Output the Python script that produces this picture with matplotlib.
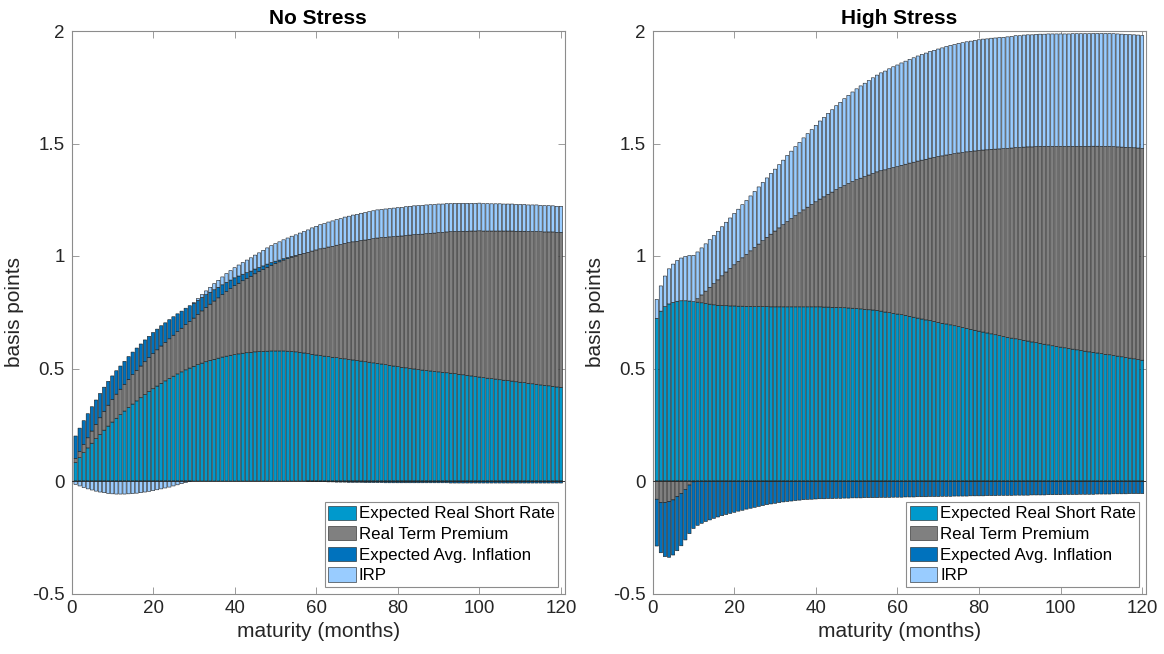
import numpy as np
import matplotlib
matplotlib.use("Agg")
import matplotlib.pyplot as plt

plt.rcParams['font.family'] = ['Liberation Sans', 'DejaVu Sans']

months = list(range(1, 121))
series_names = ["Expected Real Short Rate", "Real Term Premium",
                "Expected Avg. Inflation", "IRP"]
panel_titles = ["No Stress", "High Stress"]
x_ticks = [0, 20, 40, 60, 80, 100, 120]
y_ticks = [-0.5, 0, 0.5, 1, 1.5, 2]
y_tick_labels = ["-0.5", "0", "0.5", "1", "1.5", "2"]

# ---- No Stress ----
ns_ersr = [0.082, 0.104, 0.126, 0.147, 0.168, 0.188, 0.207, 0.226, 0.244, 0.262,
           0.279, 0.295, 0.311, 0.327, 0.342, 0.356, 0.370, 0.384, 0.397, 0.410,
           0.422, 0.434, 0.445, 0.456, 0.466, 0.476, 0.485, 0.494, 0.502, 0.510,
           0.517, 0.524, 0.530, 0.536, 0.541, 0.546, 0.551, 0.555, 0.559, 0.562,
           0.565, 0.568, 0.570, 0.572, 0.574, 0.575, 0.576, 0.577, 0.578, 0.578,
           0.578, 0.578, 0.577, 0.576, 0.574, 0.572, 0.569, 0.566, 0.563, 0.560,
           0.558, 0.555, 0.553, 0.550, 0.548, 0.545, 0.543, 0.540, 0.538, 0.535,
           0.533, 0.530, 0.528, 0.525, 0.523, 0.520, 0.517, 0.514, 0.511, 0.508,
           0.505, 0.503, 0.500, 0.498, 0.495, 0.493, 0.491, 0.489, 0.487, 0.485,
           0.483, 0.481, 0.479, 0.477, 0.474, 0.472, 0.469, 0.467, 0.464, 0.462,
           0.459, 0.457, 0.455, 0.453, 0.450, 0.448, 0.446, 0.444, 0.441, 0.439,
           0.437, 0.434, 0.432, 0.430, 0.427, 0.425, 0.423, 0.421, 0.418, 0.416]
ns_rtp = [0.018, 0.027, 0.036, 0.045, 0.054, 0.064, 0.074, 0.084, 0.093, 0.100,
          0.107, 0.113, 0.119, 0.125, 0.131, 0.136, 0.141, 0.146, 0.151, 0.156,
          0.161, 0.166, 0.171, 0.176, 0.182, 0.188, 0.194, 0.201, 0.207, 0.214,
          0.223, 0.232, 0.241, 0.250, 0.259, 0.268, 0.277, 0.287, 0.296, 0.306,
          0.314, 0.322, 0.330, 0.338, 0.347, 0.356, 0.364, 0.373, 0.381, 0.389,
          0.396, 0.404, 0.411, 0.419, 0.426, 0.434, 0.442, 0.450, 0.459, 0.467,
          0.474, 0.480, 0.487, 0.493, 0.500, 0.506, 0.513, 0.519, 0.525, 0.530,
          0.536, 0.541, 0.546, 0.552, 0.557, 0.562, 0.566, 0.571, 0.575, 0.580,
          0.584, 0.588, 0.593, 0.597, 0.601, 0.604, 0.608, 0.612, 0.615, 0.619,
          0.622, 0.626, 0.629, 0.632, 0.635, 0.638, 0.641, 0.644, 0.647, 0.650,
          0.652, 0.654, 0.656, 0.658, 0.661, 0.663, 0.665, 0.667, 0.669, 0.671,
          0.673, 0.675, 0.677, 0.679, 0.681, 0.682, 0.684, 0.686, 0.687, 0.689]
ns_eai = [0.100, 0.104, 0.106, 0.107, 0.108, 0.108, 0.108, 0.107, 0.106, 0.105,
          0.104, 0.103, 0.102, 0.101, 0.100, 0.099, 0.098, 0.097, 0.095, 0.094,
          0.092, 0.090, 0.087, 0.085, 0.082, 0.079, 0.076, 0.073, 0.070, 0.066,
          0.063, 0.060, 0.057, 0.053, 0.050, 0.047, 0.044, 0.041, 0.038, 0.035,
          0.032, 0.029, 0.026, 0.023, 0.021, 0.018, 0.016, 0.014, 0.012, 0.010,
          0.008, 0.006, 0.005, 0.003, 0.002, 0.001, 0.000, -0.001, -0.002, -0.002,
          -0.003, -0.003, -0.004, -0.004, -0.005, -0.005, -0.005, -0.006, -0.006, -0.006,
          -0.006, -0.007, -0.007, -0.007, -0.007, -0.007, -0.008, -0.008, -0.008, -0.008,
          -0.008, -0.008, -0.008, -0.008, -0.008, -0.008, -0.008, -0.008, -0.008, -0.008,
          -0.008, -0.008, -0.009, -0.009, -0.009, -0.009, -0.009, -0.009, -0.009, -0.009,
          -0.009, -0.009, -0.009, -0.009, -0.009, -0.009, -0.009, -0.009, -0.009, -0.009,
          -0.009, -0.009, -0.009, -0.009, -0.009, -0.009, -0.009, -0.009, -0.009, -0.009]
ns_irp = [-0.015, -0.022, -0.029, -0.035, -0.040, -0.045, -0.049, -0.052, -0.055, -0.057,
          -0.058, -0.058, -0.058, -0.057, -0.056, -0.054, -0.052, -0.049, -0.046, -0.043,
          -0.039, -0.035, -0.031, -0.027, -0.022, -0.017, -0.012, -0.007, -0.002, 0.003,
          0.008, 0.013, 0.017, 0.022, 0.027, 0.031, 0.035, 0.039, 0.042, 0.045,
          0.049, 0.052, 0.056, 0.059, 0.062, 0.065, 0.069, 0.072, 0.075, 0.078,
          0.081, 0.084, 0.087, 0.090, 0.092, 0.095, 0.098, 0.100, 0.103, 0.105,
          0.107, 0.109, 0.111, 0.113, 0.114, 0.115, 0.117, 0.118, 0.119, 0.120,
          0.121, 0.122, 0.123, 0.124, 0.125, 0.125, 0.126, 0.126, 0.127, 0.127,
          0.127, 0.128, 0.128, 0.128, 0.128, 0.128, 0.128, 0.127, 0.127, 0.127,
          0.126, 0.126, 0.125, 0.125, 0.125, 0.124, 0.124, 0.123, 0.123, 0.123,
          0.122, 0.122, 0.121, 0.121, 0.121, 0.120, 0.120, 0.120, 0.119, 0.119,
          0.119, 0.118, 0.118, 0.118, 0.117, 0.117, 0.117, 0.116, 0.116, 0.116]

# ---- High Stress ----
hs_ersr = [0.723, 0.755, 0.775, 0.787, 0.794, 0.799, 0.801, 0.801, 0.800, 0.797,
           0.795, 0.792, 0.789, 0.786, 0.783, 0.781, 0.780, 0.779, 0.778, 0.778,
           0.777, 0.777, 0.776, 0.776, 0.775, 0.775, 0.775, 0.775, 0.774, 0.774,
           0.774, 0.774, 0.774, 0.774, 0.774, 0.774, 0.774, 0.774, 0.774, 0.774,
           0.774, 0.773, 0.773, 0.772, 0.772, 0.771, 0.770, 0.769, 0.768, 0.767,
           0.765, 0.763, 0.761, 0.760, 0.758, 0.755, 0.751, 0.748, 0.745, 0.742,
           0.739, 0.736, 0.732, 0.728, 0.724, 0.720, 0.716, 0.713, 0.709, 0.705,
           0.701, 0.698, 0.694, 0.690, 0.686, 0.682, 0.678, 0.674, 0.670, 0.666,
           0.662, 0.658, 0.654, 0.650, 0.646, 0.642, 0.638, 0.635, 0.632, 0.628,
           0.625, 0.622, 0.618, 0.615, 0.612, 0.608, 0.605, 0.601, 0.598, 0.595,
           0.592, 0.589, 0.586, 0.583, 0.580, 0.577, 0.574, 0.572, 0.569, 0.566,
           0.563, 0.561, 0.558, 0.555, 0.552, 0.549, 0.546, 0.543, 0.540, 0.537]
hs_rtp = [-0.081, -0.096, -0.096, -0.092, -0.084, -0.070, -0.055, -0.037, -0.018, -0.004,
          0.015, 0.035, 0.055, 0.075, 0.094, 0.113, 0.132, 0.150, 0.167, 0.183,
          0.199, 0.215, 0.231, 0.247, 0.263, 0.278, 0.293, 0.308, 0.323, 0.337,
          0.351, 0.365, 0.379, 0.392, 0.405, 0.418, 0.431, 0.443, 0.455, 0.467,
          0.479, 0.490, 0.501, 0.512, 0.523, 0.533, 0.543, 0.553, 0.563, 0.572,
          0.581, 0.590, 0.599, 0.607, 0.616, 0.624, 0.632, 0.640, 0.648, 0.655,
          0.664, 0.672, 0.681, 0.689, 0.698, 0.706, 0.714, 0.722, 0.729, 0.737,
          0.744, 0.751, 0.758, 0.765, 0.772, 0.778, 0.785, 0.791, 0.797, 0.803,
          0.809, 0.814, 0.820, 0.825, 0.830, 0.835, 0.840, 0.845, 0.850, 0.854,
          0.859, 0.863, 0.867, 0.871, 0.875, 0.879, 0.882, 0.886, 0.889, 0.892,
          0.895, 0.898, 0.901, 0.904, 0.907, 0.910, 0.913, 0.916, 0.919, 0.921,
          0.924, 0.926, 0.928, 0.930, 0.932, 0.934, 0.936, 0.938, 0.940, 0.941]
hs_eai = [-0.208, -0.223, -0.240, -0.247, -0.245, -0.240, -0.233, -0.225, -0.216, -0.207,
          -0.197, -0.188, -0.180, -0.173, -0.166, -0.160, -0.154, -0.149, -0.144, -0.139,
          -0.134, -0.130, -0.125, -0.121, -0.117, -0.113, -0.109, -0.105, -0.102, -0.099,
          -0.096, -0.093, -0.091, -0.089, -0.087, -0.085, -0.083, -0.082, -0.081, -0.080,
          -0.079, -0.079, -0.078, -0.078, -0.077, -0.077, -0.076, -0.076, -0.075, -0.075,
          -0.075, -0.074, -0.074, -0.074, -0.074, -0.073, -0.073, -0.073, -0.072, -0.072,
          -0.072, -0.071, -0.071, -0.071, -0.070, -0.070, -0.070, -0.069, -0.069, -0.069,
          -0.068, -0.068, -0.068, -0.067, -0.067, -0.067, -0.067, -0.066, -0.066, -0.066,
          -0.066, -0.065, -0.065, -0.065, -0.064, -0.064, -0.064, -0.064, -0.063, -0.063,
          -0.063, -0.063, -0.062, -0.062, -0.062, -0.062, -0.061, -0.061, -0.061, -0.061,
          -0.060, -0.060, -0.060, -0.060, -0.059, -0.059, -0.059, -0.059, -0.058, -0.058,
          -0.058, -0.058, -0.057, -0.057, -0.057, -0.057, -0.056, -0.056, -0.056, -0.056]
hs_irp = [0.084, 0.112, 0.136, 0.156, 0.170, 0.181, 0.190, 0.197, 0.202, 0.206,
          0.208, 0.209, 0.210, 0.212, 0.214, 0.216, 0.218, 0.221, 0.224, 0.228,
          0.232, 0.236, 0.240, 0.244, 0.249, 0.254, 0.259, 0.264, 0.270, 0.275,
          0.281, 0.287, 0.294, 0.300, 0.307, 0.313, 0.320, 0.327, 0.333, 0.340,
          0.347, 0.353, 0.360, 0.366, 0.373, 0.379, 0.386, 0.392, 0.398, 0.404,
          0.410, 0.415, 0.420, 0.425, 0.430, 0.435, 0.439, 0.444, 0.448, 0.452,
          0.455, 0.458, 0.461, 0.464, 0.467, 0.470, 0.472, 0.474, 0.476, 0.478,
          0.480, 0.482, 0.484, 0.485, 0.487, 0.488, 0.489, 0.490, 0.491, 0.492,
          0.493, 0.493, 0.494, 0.494, 0.495, 0.495, 0.496, 0.496, 0.497, 0.497,
          0.498, 0.498, 0.498, 0.499, 0.499, 0.499, 0.500, 0.500, 0.500, 0.500,
          0.500, 0.500, 0.501, 0.501, 0.501, 0.501, 0.501, 0.501, 0.501, 0.502,
          0.502, 0.502, 0.502, 0.502, 0.502, 0.502, 0.502, 0.502, 0.502, 0.502]

colors = ["#0099CC", "#808080", "#0072BD", "#99CCFF"]

W, H = 1164, 654
fig = plt.figure(figsize=(W / 100, H / 100), dpi=100)
ax_left = [71.5, 652.7]
ax_w = 493.5
ax_top, ax_bot = 31, 593.5

panels = [[ns_ersr, ns_rtp, ns_eai, ns_irp], [hs_ersr, hs_rtp, hs_eai, hs_irp]]
axes_col = "#8c8c8c"
text_col = "#262626"

for p in range(2):
    ax = fig.add_axes([ax_left[p] / W, (H - ax_bot) / H, ax_w / W, (ax_bot - ax_top) / H])
    x = np.array(months)
    pos_base = np.zeros(len(x))
    neg_base = np.zeros(len(x))
    for s, vals in enumerate(panels[p]):
        v = np.array(vals, dtype=float)
        bottom = np.where(v >= 0, pos_base, neg_base)
        bars = ax.bar(x, v, width=0.8, bottom=bottom, color=colors[s], edgecolor="#1a1a1a",
                      linewidth=0.4, label=series_names[s], zorder=2)
        for b in bars:
            b.set_snap(False)
        pos_base = pos_base + np.where(v > 0, v, 0)
        neg_base = neg_base + np.where(v < 0, v, 0)
    ax.axhline(0, color="#262626", lw=0.6, zorder=3)
    ax.set_xlim(0, 121)
    ax.set_ylim(-0.5, 2)
    ax.set_xticks(x_ticks)
    ax.set_yticks(y_ticks)
    ax.set_yticklabels(y_tick_labels)
    ax.tick_params(direction="in", length=5, width=0.6, color=axes_col,
                   labelsize=13.5, labelcolor=text_col, top=True, right=True, pad=5)
    for sp in ax.spines.values():
        sp.set_color(axes_col)
        sp.set_linewidth(0.8)
    ax.set_title(panel_titles[p], fontsize=15, fontweight="bold", color="black", pad=5)
    ax.set_xlabel("maturity (months)", fontsize=15, color=text_col, labelpad=3)
    ax.set_ylabel("basis points", fontsize=15, color=text_col, labelpad=6)
    leg = ax.legend(loc="lower right", fontsize=12.2, frameon=True, fancybox=False,
                    edgecolor="#8c8c8c", framealpha=1, borderpad=0.2, labelspacing=0.28,
                    handlelength=1.6, handleheight=0.9, handletextpad=0.2,
                    borderaxespad=0.4)
    leg.get_frame().set_linewidth(0.8)
    for t in leg.get_texts():
        t.set_color("black")

fig.savefig("out.png", dpi=100)
